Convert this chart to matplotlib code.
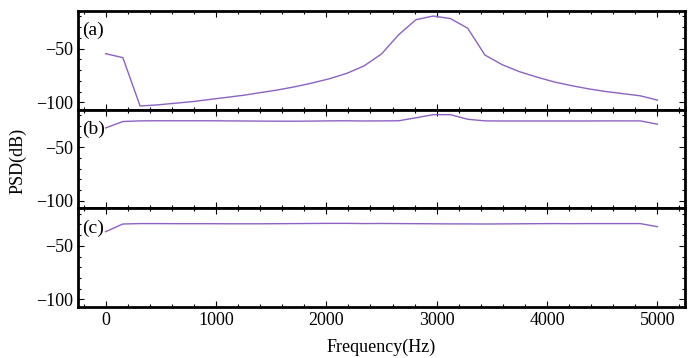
import numpy as np
import matplotlib.pyplot as plt
from matplotlib.ticker import MultipleLocator

plt.rcParams['font.family'] = ['Liberation Serif', 'DejaVu Serif']
plt.rcParams['mathtext.fontset'] = 'stix'

# frequency grid (33 points, 0..5000 Hz)
freq = [i * 5000 / 32 for i in range(33)]

# (a) PSD values
psd_a = [-54.7, -58.4, -103.5, -102.5, -101.0, -99.5, -97.5, -95.5, -93.5, -91.0,
         -88.5, -85.5, -82.0, -78.0, -73.0, -66.0, -55.0, -37.0, -23.0, -19.6,
         -22.0, -31.0, -56.0, -65.0, -71.5, -76.5, -81.0, -84.5, -87.5, -90.0,
         -92.0, -94.0, -98.0]

# (b)
psd_b = [-32.0, -26.0, -25.4, -25.3, -25.3, -25.3, -25.3, -25.4, -25.5, -25.6,
         -25.7, -25.7, -25.6, -25.4, -25.3, -25.5, -25.4, -25.3, -22.5, -19.6,
         -19.6, -23.9, -25.4, -25.5, -25.5, -25.5, -25.5, -25.5, -25.5, -25.4,
         -25.4, -25.4, -28.5]

# (c)
psd_c = [-36.8, -29.6, -29.2, -29.2, -29.3, -29.3, -29.3, -29.4, -29.4, -29.4,
         -29.3, -29.2, -29.1, -29.0, -29.0, -29.2, -29.1, -29.2, -29.3, -29.4,
         -29.5, -29.5, -29.6, -29.5, -29.4, -29.3, -29.2, -29.3, -29.2, -29.2,
         -29.2, -29.2, -32.1]

panels = [("(a)", psd_a), ("(b)", psd_b), ("(c)", psd_c)]
LINE_COLOR = "#8c62c4"

fig, axes = plt.subplots(3, 1, figsize=(6.94, 3.58), dpi=100, sharex=True)
fig.subplots_adjust(left=0.1124, right=0.987, top=0.969, bottom=0.1425, hspace=0)

for ax, (label, vals) in zip(axes, panels):
    ax.plot(freq, vals, color=LINE_COLOR, lw=1.0)
    ax.set_xlim(-250, 5250)
    ax.set_ylim(-107, -15)
    ax.set_yticks([-100, -50])
    ax.yaxis.set_minor_locator(MultipleLocator(10))
    ax.xaxis.set_major_locator(MultipleLocator(1000))
    ax.xaxis.set_minor_locator(MultipleLocator(200))
    ax.tick_params(which='both', direction='in', top=True, right=True,
                   labelsize=13, width=0.8)
    ax.tick_params(which='major', length=4)
    ax.tick_params(which='minor', length=2)
    for sp in ax.spines.values():
        sp.set_linewidth(2)
    ax.text(0.006, 0.80, label, transform=ax.transAxes, fontsize=14,
            ha='left', va='center')

axes[-1].set_xlabel("Frequency(Hz)", fontsize=13, labelpad=7)
fig.text(0.026, 0.55, "PSD(dB)", rotation=90, fontsize=13,
         ha='center', va='center')

fig.savefig("out.png", dpi=100)
